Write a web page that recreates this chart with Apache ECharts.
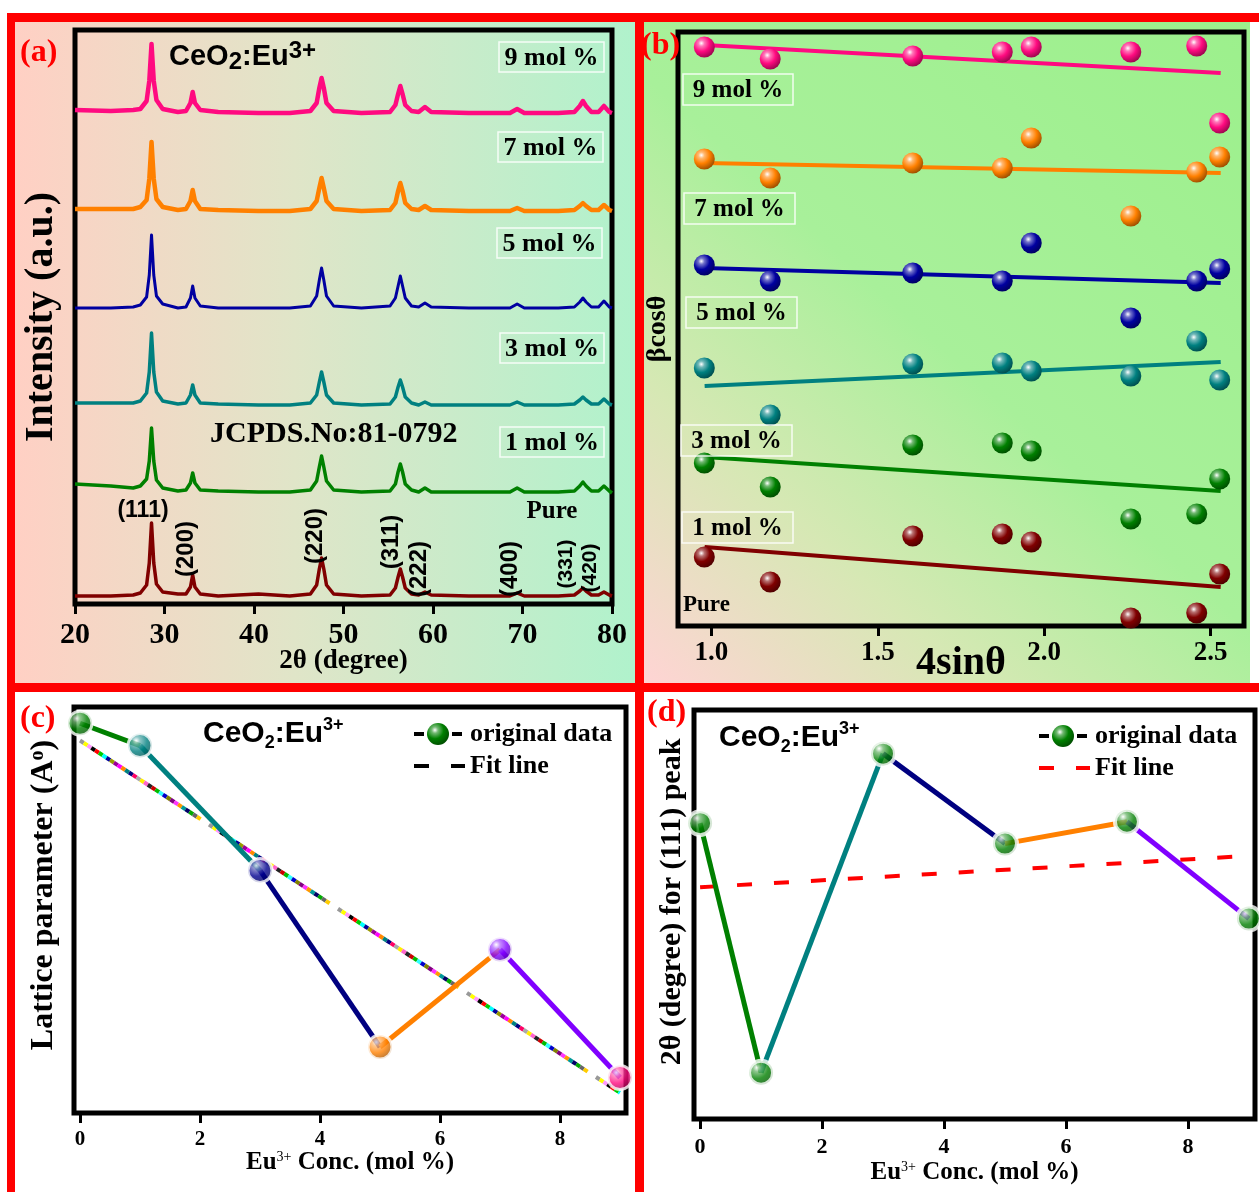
<!DOCTYPE html>
<html><head><meta charset="utf-8">
<script src="https://cdn.jsdelivr.net/npm/echarts@6/dist/echarts.min.js"></script>
<style>html,body{margin:0;padding:0;background:#fff}#chart{width:1259px;height:1192px}</style>
</head><body><div id="chart"></div>
<script>
// ---------------- DATA ----------------
// (a) XRD patterns: 2theta grid and intensities (a.u.) above each trace's stacking offset
const twoTheta = [20,24,26.5,27.3,28.0,28.3,28.55,28.8,29.1,29.8,31.5,32.4,32.9,33.15,33.4,34.0,36,40.5,44,46.3,47.0,47.3,47.55,47.8,48.1,48.9,52,55.2,55.8,56.1,56.35,56.6,56.9,57.6,58.4,59.1,59.8,64,68.6,69.4,70.2,74,75.8,76.4,76.75,77.1,77.7,78.5,79.1,79.7,80];
const xrdPure = [0,0,1,3,11, 33,73,33,12,4, 2,2,9,21,9, 2,0,2,0,2, 11,27,38,27,11, 2,0,1,8,19, 27,19,8,2,1, 4,1,0,0,3, 0,0,1,5,8, 5,1,1,4,1, 0];
const xrd1 = [8,6,4,6,13, 31,64,31,12,4, 1,2,9,19,9, 2,1,0,0,2, 11,25,36,25,11, 2,0,1,8,20, 28,20,8,2,0, 4,0,0,0,4, 0,0,1,6,10, 6,1,1,6,1, -1];
const xrd3 = [2,2,2,4,12, 33,72,33,13,4, 1,2,10,20,10, 2,1,0,0,2, 10,23,33,23,10, 2,0,1,8,18, 25,18,8,2,0, 3,0,0,0,3, 0,0,1,5,8, 5,1,1,6,1, 0];
const xrd5 = [0,0,1,3,11, 33,73,33,12,4, 0,1,10,22,10, 2,0,0,0,2, 12,28,40,28,12, 2,0,2,10,22, 32,22,10,2,1, 5,1,0,0,4, 0,0,1,6,10, 6,1,1,7,1, 0];
const xrd7 = [2,2,2,4,11, 32,69,32,12,4, 1,2,10,21,10, 2,1,0,0,2, 10,23,33,23,10, 2,0,1,8,20, 28,20,8,2,1, 5,1,0,0,3, 0,0,1,5,8, 5,1,1,6,1, 0];
const xrd9 = [3,2,3,4,12, 32,69,32,13,4, 1,2,10,21,10, 3,1,0,0,2, 10,25,35,25,10, 2,0,1,8,19, 27,19,8,2,1, 6,1,0,0,4, 0,0,1,7,12, 7,1,1,7,1, 0];
const xrdOffset = [8,112,199,296,393,491];
const sampleNames = ['Pure','1 mol %','3 mol %','5 mol %','7 mol %','9 mol %'];
const millerLabels = ['(111)','(200)','(220)','(311)','(222)','(400)','(331)','(420)'];

// (b) Williamson-Hall: 4sinθ and βcosθ (a.u., stacked)
const whX = [0.979,1.177,1.605,1.874,1.961,2.260,2.458,2.527];
const whPure = [69,44,90,92,84,8,13,52];
const wh1 = [163,139,181,183,175,107,112,147];
const wh3 = [258,211,262,263,255,250,285,246];
const wh5 = [361,345,353,345,383,308,345,357];
const wh7 = [467,448,463,458,488,410,454,469];
const wh9 = [579,567,570,574,579,574,580,503];
const fitX = [0.98,2.53];
const fitPure = [79,39];
const fit1 = [169,135];
const fit3 = [240,264];
const fit5 = [358,343];
const fit7 = [463,453];
const fit9 = [581,553];

// (c),(d)
const conc = [0,1,3,5,7,9];
const latticeA = [5.4184,5.4162,5.4039,5.3865,5.3961,5.3835];
const fitConc = [0,9];
const latticeFit = [5.4167,5.3820];
const peak111 = [28.617,28.434,28.668,28.602,28.618,28.547];
const peakFit = [28.570,28.593];

// ---------------- STYLE ----------------
const serif = "'Liberation Serif','Times New Roman',serif";
const sans = "'Liberation Sans',Arial,sans-serif";
const sampleColors = ['#800000','#008000','#008080','#0000a0','#ff8000','#ff0a80'];
const xrdWidths = [3.5,3.5,3.5,3,4.5,4.5];
const segColors = ['#008000','#008080','#000080','#ff8000','#8000ff'];
const cBallColors = ['#008000','#008080','#000090','#ff8000','#8000ff','#ff0a80'];
const rainbow = ['#999999','#ffff00','#ff99ff','#000000','#ff0000','#00cc00','#00ffff','#000099','#999900','#990099','#ff00ff','#ff8800','#008080','#000080','#ff0066','#aaaaaa',
                 '#ffee00','#ff66cc','#222222','#cc0000','#00bb00','#33ffff','#0000cc','#808000','#800080','#ff33ff','#ff9900','#009999','#000066','#00aa00','#666666','#ffcc00'];

function shade(hex, f){
  const n = parseInt(hex.slice(1),16);
  let r=(n>>16)&255,g=(n>>8)&255,b=n&255;
  if(f<0){r=Math.round(r*(1+f));g=Math.round(g*(1+f));b=Math.round(b*(1+f));}
  else{r=Math.round(r+(255-r)*f);g=Math.round(g+(255-g)*f);b=Math.round(b+(255-b)*f);}
  return 'rgb('+r+','+g+','+b+')';
}
function ball(c){
  return {type:'radial',x:0.36,y:0.32,r:0.72,colorStops:[
    {offset:0,color:'#ffffff'},{offset:0.2,color:shade(c,0.45)},{offset:0.55,color:c},{offset:1,color:shade(c,-0.4)}]};
}

const chart = echarts.init(document.getElementById('chart'), null, {renderer:'canvas'});

const grids = [
  {left:75, top:30, width:537, height:574},
  {left:678, top:32, width:566, height:594},
  {left:74, top:707, width:552, height:406},
  {left:694, top:710, width:561, height:409}
].map(g=>Object.assign(g,{show:true,borderColor:'#000',borderWidth:5,backgroundColor:'transparent',containLabel:false,outerBoundsMode:'none'}));

const tick = {show:true,inside:false,length:10,lineStyle:{color:'#000',width:3}};
function lbl(size, margin){ return {color:'#000',fontFamily:serif,fontWeight:'bold',fontSize:size,margin:margin}; }
function nameStyle(size, rich){ const s={color:'#000',fontFamily:serif,fontWeight:'bold',fontSize:size}; if(rich) s.rich=rich; return s; }
const supRich = {sup:{fontFamily:serif,fontWeight:'normal',fontSize:14,verticalAlign:'top',lineHeight:10,padding:[0,0,8,0]}};

const xAxes = [
  {gridIndex:0,type:'value',min:20,max:80,interval:10,axisLine:{show:false},axisTick:tick,axisLabel:lbl(30,16),splitLine:{show:false},
   name:'2θ (degree)',nameLocation:'middle',nameGap:44,nameMoveOverlap:false,nameTextStyle:nameStyle(27)},
  {gridIndex:1,type:'value',min:0.9,max:2.6,axisLine:{show:false},axisTick:Object.assign({},tick,{customValues:[1.0,1.5,2.0,2.5]}),
   axisLabel:Object.assign(lbl(27,14),{customValues:[1.0,1.5,2.0,2.5],formatter:v=>v.toFixed(1)}),splitLine:{show:false},
   name:'4sinθ',nameLocation:'middle',nameGap:18,nameMoveOverlap:false,nameTextStyle:nameStyle(40)},
  {gridIndex:2,type:'value',min:-0.1,max:9.1,axisLine:{show:false},axisTick:Object.assign({},tick,{customValues:[0,2,4,6,8]}),
   axisLabel:Object.assign(lbl(21,16),{customValues:[0,2,4,6,8]}),splitLine:{show:false},
   name:'Eu{sup|3+} Conc. (mol %)',nameLocation:'middle',nameGap:37,nameMoveOverlap:false,nameTextStyle:nameStyle(25,supRich)},
  {gridIndex:3,type:'value',min:-0.1,max:9.1,axisLine:{show:false},axisTick:Object.assign({},tick,{customValues:[0,2,4,6,8]}),
   axisLabel:Object.assign(lbl(22,17),{customValues:[0,2,4,6,8]}),splitLine:{show:false},
   name:'Eu{sup|3+} Conc. (mol %)',nameLocation:'middle',nameGap:41,nameMoveOverlap:false,nameTextStyle:nameStyle(25,supRich)}
];
const hiddenY = {axisLine:{show:false},axisTick:{show:false},axisLabel:{show:false},splitLine:{show:false},nameMoveOverlap:false};
const yAxes = [
  Object.assign({gridIndex:0,type:'value',min:0,max:574,name:'Intensity (a.u.)',nameLocation:'middle',nameGap:13,nameTextStyle:nameStyle(40)},hiddenY),
  Object.assign({gridIndex:1,type:'value',min:0,max:594,name:'βcosθ',nameLocation:'middle',nameGap:6,nameTextStyle:nameStyle(28)},hiddenY),
  Object.assign({gridIndex:2,type:'value',min:5.380,max:5.420,name:'Lattice parameter (A{o|o})',nameLocation:'middle',nameGap:14,
    nameTextStyle:Object.assign(nameStyle(32,{o:{fontFamily:serif,fontWeight:'bold',fontSize:20,verticalAlign:'top',lineHeight:14,padding:[0,0,10,0]}}),{padding:[0,0,0,30]})},hiddenY),
  Object.assign({gridIndex:3,type:'value',min:28.40,max:28.70,name:'2θ (degree) for (111) peak',nameLocation:'middle',nameGap:7,
    nameTextStyle:Object.assign(nameStyle(30),{padding:[0,0,0,25]})},hiddenY)
];

const series = [];
// (a)
const xrdSets = [xrdPure,xrd1,xrd3,xrd5,xrd7,xrd9];
xrdSets.forEach((arr,k)=>{
  series.push({type:'line',name:sampleNames[k],xAxisIndex:0,yAxisIndex:0,showSymbol:false,silent:true,z:3,
    data:twoTheta.map((t,i)=>[t,arr[i]+xrdOffset[k]]),
    lineStyle:{color:sampleColors[k],width:xrdWidths[k],join:'round'}});
});
// (b)
const whSets = [whPure,wh1,wh3,wh5,wh7,wh9];
const fitSets = [fitPure,fit1,fit3,fit5,fit7,fit9];
whSets.forEach((arr,k)=>{
  series.push({type:'line',xAxisIndex:1,yAxisIndex:1,showSymbol:false,silent:true,z:3,
    data:fitX.map((x,i)=>[x,fitSets[k][i]]),lineStyle:{color:sampleColors[k],width:4}});
  series.push({type:'scatter',xAxisIndex:1,yAxisIndex:1,symbolSize:21,silent:true,z:4,
    data:whX.map((x,i)=>[x,arr[i]]),itemStyle:{color:ball(sampleColors[k]),opacity:1}});
});
// (c) multicoloured dashed fit line
const dashLen = 4.5, period = rainbow.length*dashLen + 10;
rainbow.forEach((col,i)=>{
  series.push({type:'line',xAxisIndex:2,yAxisIndex:2,showSymbol:false,silent:true,z:2,
    data:fitConc.map((x,j)=>[x,latticeFit[j]]),
    lineStyle:{color:col,width:4,type:[dashLen,period-dashLen],dashOffset:(period-dashLen*i)%period}});
});
for(let i=0;i<conc.length-1;i++){
  series.push({type:'line',xAxisIndex:2,yAxisIndex:2,showSymbol:false,silent:true,z:3,
    data:[[conc[i],latticeA[i]],[conc[i+1],latticeA[i+1]]],lineStyle:{color:segColors[i],width:5}});
}
series.push({type:'scatter',xAxisIndex:2,yAxisIndex:2,symbolSize:24,silent:true,z:5,
  data:conc.map((c,i)=>({value:[c,latticeA[i]],itemStyle:{color:ball(cBallColors[i]),borderColor:'#fff',borderWidth:3}}))});
// (d)
series.push({type:'line',xAxisIndex:3,yAxisIndex:3,showSymbol:false,silent:true,z:2,
  data:fitConc.map((x,j)=>[x,peakFit[j]]),lineStyle:{color:'#ff0000',width:4,type:[15,22]}});
for(let i=0;i<conc.length-1;i++){
  series.push({type:'line',xAxisIndex:3,yAxisIndex:3,showSymbol:false,silent:true,z:3,
    data:[[conc[i],peak111[i]],[conc[i+1],peak111[i+1]]],lineStyle:{color:segColors[i],width:5}});
}
series.push({type:'scatter',xAxisIndex:3,yAxisIndex:3,symbolSize:24,silent:true,z:5,
  data:conc.map((c,i)=>({value:[c,peak111[i]],itemStyle:{color:ball('#008000'),borderColor:'#fff',borderWidth:4}}))});

// ---------------- GRAPHICS (backgrounds, frames, annotations) ----------------
const G = [];
function rect(x,y,w,h,fill,z){ G.push({type:'rect',silent:true,z:z,shape:{x:x,y:y,width:w,height:h},style:{fill:fill}}); }
rect(15,22,620,661,{type:'linear',x:0,y:0,x2:1,y2:0,colorStops:[{offset:0,color:'#ffd0c4'},{offset:0.45,color:'#e0e5c8'},{offset:1,color:'#b0f2cc'}]},-100);
rect(644,22,606,661,{type:'linear',x:0,y:1,x2:1,y2:0,colorStops:[{offset:0,color:'#ffd4d4'},{offset:0.25,color:'#d6e8b4'},{offset:0.5,color:'#a8f09a'},{offset:1,color:'#9cf08c'}]},-100);
rect(7,13,1252,9,'#ff0000',-50);
rect(7,683,1252,9,'#ff0000',-50);
rect(7,13,8,1179,'#ff0000',-50);
rect(635,13,9,1179,'#ff0000',-50);

function text(x,y,str,size,opts){
  opts = opts||{};
  G.push({type:'text',silent:true,z:100,x:x,y:y,rotation:opts.rot||0,
    style:{text:str,fill:opts.color||'#000',fontFamily:opts.family||serif,fontWeight:'bold',fontSize:size,
      align:opts.align||'left',verticalAlign:'middle',rich:opts.rich}});
}
function box(x,y,w,h,str,size){
  G.push({type:'rect',silent:true,z:99,shape:{x:x,y:y,width:w,height:h},style:{fill:null,stroke:'rgba(255,255,255,0.85)',lineWidth:1.5}});
  text(x+w/2,y+h/2+1,str,size,{align:'center'});
}
function ceo2(x,y,big,sub,sup,subDrop,supRise){
  G.push({type:'text',silent:true,z:100,x:x,y:y,style:{
    text:'{b|CeO}{s|2}{b|:Eu}{p|3+}',verticalAlign:'middle',align:'left',
    rich:{b:{fontFamily:sans,fontWeight:'bold',fontSize:big,lineHeight:big+6,fill:'#000'},
          s:{fontFamily:sans,fontWeight:'bold',fontSize:sub,lineHeight:sub,verticalAlign:'bottom',padding:[subDrop,0,0,0],fill:'#000'},
          p:{fontFamily:sans,fontWeight:'bold',fontSize:sup,lineHeight:sup,verticalAlign:'top',padding:[0,0,supRise,0],fill:'#000'}}}});
}
// panel labels
text(20,53,'(a)',32,{color:'#ff0000'});
text(641,46,'(b)',32,{color:'#ff0000'});
text(20,719,'(c)',32,{color:'#ff0000'});
text(647,713,'(d)',32,{color:'#ff0000'});
// (a) annotations
ceo2(169,57,29,24,24,8,8);
text(210,434,'JCPDS.No:81-0792',30);
box(499,42,105,30,sampleNames[5],26);
box(498,132,105,30,sampleNames[4],26);
box(497,228,105,30,sampleNames[3],26);
box(500,333,104,30,sampleNames[2],26);
box(500,427,104,30,sampleNames[1],26);
text(552,512,sampleNames[0],25,{align:'center'});
text(143,511,millerLabels[0],23,{family:sans,align:'center'});
const millerPos = [[186,549,24],[315,536,24],[391,542,24],[419,569,24],[510,569,24],[566,564,21],[590,568,21]];
millerPos.forEach((p,i)=>text(p[0],p[1],millerLabels[i+1],p[2],{family:sans,align:'center',rot:Math.PI/2}));
// (b) annotations
box(683,74,110,31,sampleNames[5],25);
box(684,193,111,31,sampleNames[4],25);
box(686,297,111,31,sampleNames[3],25);
box(681,425,111,31,sampleNames[2],25);
box(682,512,111,31,sampleNames[1],25);
text(683,605,sampleNames[0],23);
// (c) annotations
ceo2(203,734,30,18,18,7,10);
function legend(x,y1,y2,lineCol){
  G.push({type:'rect',silent:true,z:100,shape:{x:x,y:y1-2,width:10,height:4},style:{fill:'#000'}});
  G.push({type:'rect',silent:true,z:100,shape:{x:x+38,y:y1-2,width:10,height:4},style:{fill:'#000'}});
  G.push({type:'circle',silent:true,z:101,shape:{cx:x+24,cy:y1,r:11},style:{fill:new echarts.graphic.RadialGradient(0.36,0.32,0.72,[{offset:0,color:'#fff'},{offset:0.2,color:shade('#008000',0.45)},{offset:0.55,color:'#008000'},{offset:1,color:shade('#008000',-0.4)}])}});
  G.push({type:'rect',silent:true,z:100,shape:{x:x,y:y2-2,width:15,height:4},style:{fill:lineCol}});
  G.push({type:'rect',silent:true,z:100,shape:{x:x+37,y:y2-2,width:14,height:4},style:{fill:lineCol}});
  text(x+56,y1,'original data',26);
  text(x+56,y2,'Fit line',26);
}
legend(414,734,766,'#000');
// (d) annotations
ceo2(719,738,30,18,18,7,10);
legend(1039,736,768,'#ff0000');

chart.setOption({
  backgroundColor:'#ffffff',
  animation:false,
  grid:grids, xAxis:xAxes, yAxis:yAxes, series:series,
  graphic:{elements:G}
});
</script></body></html>
